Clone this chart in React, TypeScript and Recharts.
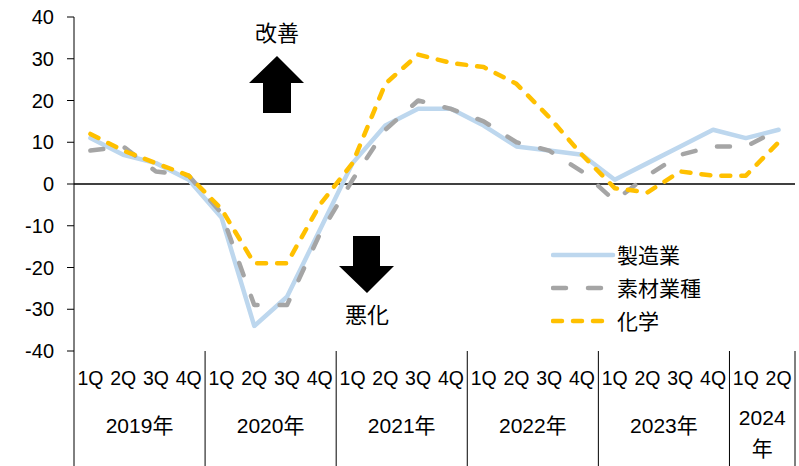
import React from 'react';
import { LineChart, Line, XAxis, YAxis, ReferenceLine, Legend } from 'recharts';

// 四半期ラベル（2019年1Q〜2024年2Q）
const quarterLabels = [
  '1Q', '2Q', '3Q', '4Q',
  '1Q', '2Q', '3Q', '4Q',
  '1Q', '2Q', '3Q', '4Q',
  '1Q', '2Q', '3Q', '4Q',
  '1Q', '2Q', '3Q', '4Q',
  '1Q', '2Q',
];
const yearLabels = ['2019年', '2020年', '2021年', '2022年', '2023年', '2024年'];
const quartersPerYear = [4, 4, 4, 4, 4, 2];

// 業況判断DI
const manufacturing = [11, 7, 5, 1, -8, -34, -27, -11, 5, 14, 18, 18, 14, 9, 8, 7, 1, 5, 9, 13, 11, 13];
const materials = [8, 9, 3, 2, -7, -29, -29, -12, 1, 13, 20, 18, 15, 10, 8, 3, -4, 2, 7, 9, 9, 13];
const chemicals = [12, 8, 5, 2, -6, -19, -19, -5, 5, 24, 31, 29, 28, 24, 16, 7, -1, -2, 3, 2, 2, 10];

const yTicks = [-40, -30, -20, -10, 0, 10, 20, 30, 40];

const W = 799;
const H = 466;
const PLOT_LEFT = 74;
const PLOT_RIGHT = 4;
const BAND = (W - PLOT_LEFT - PLOT_RIGHT) / quarterLabels.length;

const rows = quarterLabels.map((q, i) => ({
  idx: i,
  q,
  mfg: manufacturing[i],
  mat: materials[i],
  chem: chemicals[i],
}));

// which year each quarter belongs to, and its position inside that year
const yearIndex: number[] = [];
const posInYear: number[] = [];
quartersPerYear.forEach((n, y) => {
  for (let k = 0; k < n; k++) {
    yearIndex.push(y);
    posInYear.push(k);
  }
});

const series = [
  { key: 'mfg', name: '製造業', color: '#BDD7EE', dash: undefined as string | undefined },
  { key: 'mat', name: '素材業種', color: '#A5A5A5', dash: '13 22' },
  { key: 'chem', name: '化学', color: '#FFC000', dash: '9 11' },
];

const latin = "'Liberation Sans', Arial, sans-serif";
const jp = "'Liberation Sans', 'Noto Sans CJK JP', sans-serif";

function PeriodTick(props: any) {
  const { x, y, index } = props;
  const half = BAND / 2;
  const yi = yearIndex[index];
  const n = quartersPerYear[yi];
  const first = posInYear[index] === 0;
  const last = index === quarterLabels.length - 1;
  const label = yearLabels[yi];
  const cx = x - half + (n * BAND) / 2;
  return (
    <g>
      <text
        x={x}
        y={y + 34}
        textAnchor="middle"
        fontSize={21}
        fontFamily={latin}
        fill="#000"
        textLength={26}
        lengthAdjust="spacingAndGlyphs"
      >
        {quarterLabels[index]}
      </text>
      {first && <line x1={x - half} x2={x - half} y1={y} y2={H} stroke="#000" strokeWidth={1} />}
      {last && <line x1={x + half} x2={x + half} y1={y} y2={H} stroke="#000" strokeWidth={1} />}
      {first && n >= 4 && (
        <text x={cx} y={y + 82} textAnchor="middle" fontSize={21} fontFamily={jp} fill="#000">
          {label}
        </text>
      )}
      {first && n < 4 && (
        <text x={cx} y={y + 74} textAnchor="middle" fontSize={21} fontFamily={jp} fill="#000">
          <tspan x={cx}>{label.slice(0, 4)}</tspan>
          <tspan x={cx} dy={31}>{label.slice(4)}</tspan>
        </text>
      )}
    </g>
  );
}

function LegendBox() {
  return (
    <div>
      {series.map((s) => (
        <div key={s.key} style={{ display: 'flex', alignItems: 'center', height: 33 }}>
          <svg width={66} height={10}>
            <line
              x1={2}
              x2={62}
              y1={5}
              y2={5}
              stroke={s.color}
              strokeWidth={4.5}
              strokeDasharray={s.dash}
              strokeLinecap="round"
            />
          </svg>
          <span style={{ fontFamily: "'Noto Sans CJK JP', sans-serif", fontSize: 21, color: '#000', lineHeight: '33px' }}>
            {s.name}
          </span>
        </div>
      ))}
    </div>
  );
}

export default function App() {
  return (
    <div style={{ position: 'absolute', left: 0, top: 0, width: W, height: H, background: '#fff' }}>
      <LineChart width={W} height={H} data={rows} margin={{ top: 17, right: PLOT_RIGHT, bottom: 0, left: 0 }}>
        <XAxis
          dataKey="idx"
          interval={0}
          axisLine={false}
          tickLine={false}
          tickSize={0}
          tickMargin={0}
          height={115}
          padding={{ left: BAND / 2, right: BAND / 2 }}
          tick={(p: any) => <PeriodTick {...p} />}
        />
        <YAxis
          domain={[-40, 40]}
          ticks={yTicks}
          width={PLOT_LEFT}
          axisLine={{ stroke: '#000' }}
          tickLine={{ stroke: '#000' }}
          tickSize={7}
          tickMargin={13}
          tick={{ fontSize: 20, fill: '#000', fontFamily: latin }}
        />
        <ReferenceLine y={0} stroke="#000" strokeWidth={1.3} />
        {series.map((s) => (
          <Line
            key={s.key}
            type="linear"
            dataKey={s.key}
            name={s.name}
            stroke={s.color}
            strokeWidth={4.5}
            strokeDasharray={s.dash}
            strokeLinecap="round"
            strokeLinejoin="round"
            dot={false}
            activeDot={false}
            isAnimationActive={false}
          />
        ))}
        <Legend
          layout="vertical"
          align="center"
          verticalAlign="middle"
          wrapperStyle={{ left: 551, top: 238, width: 240 }}
          content={() => <LegendBox />}
        />
      </LineChart>
      <svg width={W} height={H} style={{ position: 'absolute', left: 0, top: 0, pointerEvents: 'none' }}>
        <text x={277} y={41} textAnchor="middle" fontSize={22} fontFamily="'Noto Sans CJK JP', sans-serif" fill="#000">
          改善
        </text>
        <polygon points="277,56 304,83 291,83 291,113 263,113 263,83 249,83" fill="#000" />
        <polygon points="353,236 380,236 380,266 394,266 367,293 339,266 353,266" fill="#000" />
        <text x={367} y={323} textAnchor="middle" fontSize={22} fontFamily="'Noto Sans CJK JP', sans-serif" fill="#000">
          悪化
        </text>
      </svg>
    </div>
  );
}
